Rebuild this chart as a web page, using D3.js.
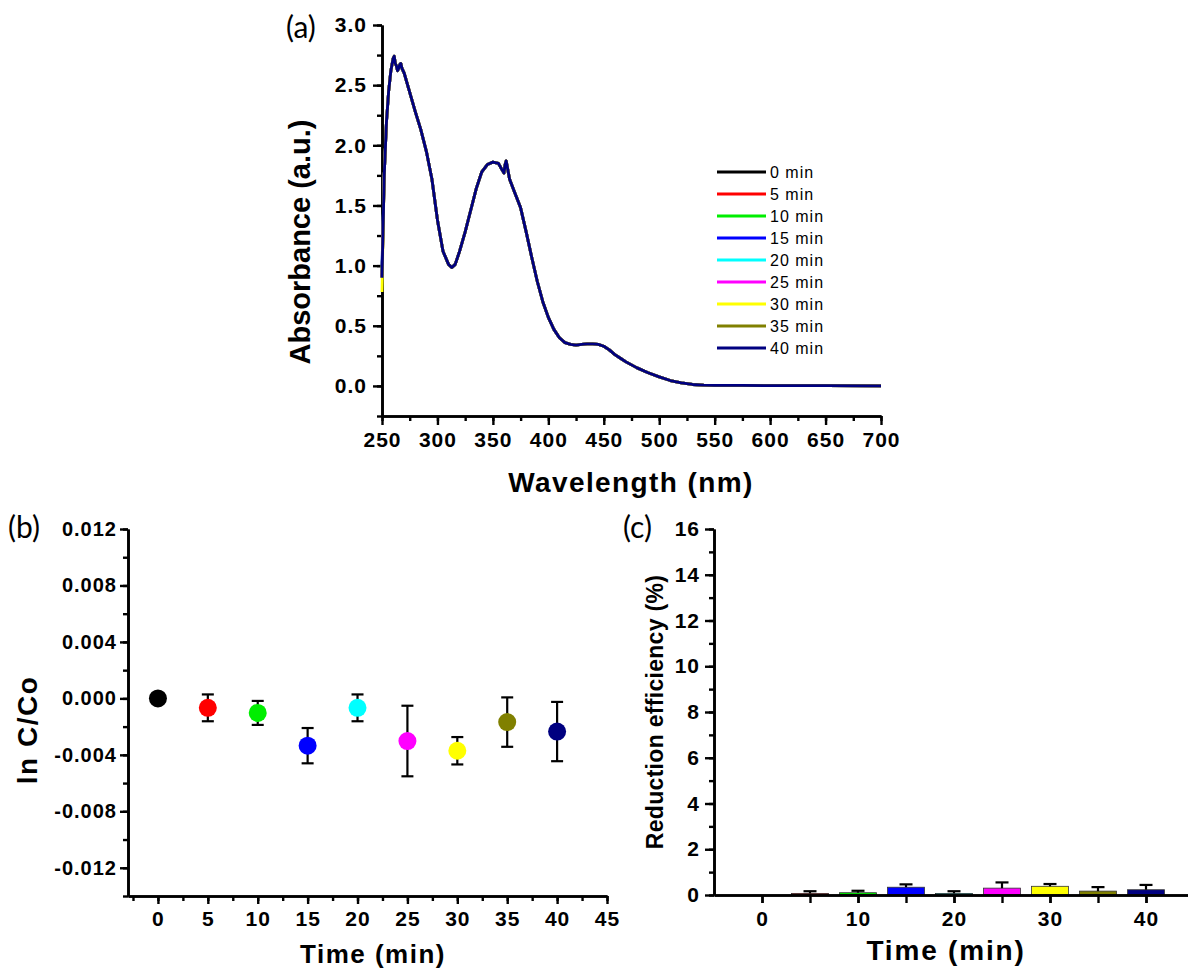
<!DOCTYPE html>
<html>
<head>
<meta charset="utf-8">
<script src="https://cdnjs.cloudflare.com/ajax/libs/d3/7.8.5/d3.min.js"></script>
<style>
    body { margin: 0; background: #fff; }
    svg text { font-family: "Liberation Sans", Arial, sans-serif; }
</style>
</head>
<body>
<div id="chart"></div>
<script>
// ---- data ----
// (a) UV-vis spectra, all nine curves lie on top of each other
var wavelength = [250, 252, 254, 256, 258, 260, 261, 262, 263, 264, 265, 266, 267, 268, 270, 275, 280, 285, 290, 295,
    300, 305, 310, 313, 316, 320, 325, 330, 335, 340, 345, 350, 355, 358, 360, 361, 362, 365, 370, 375,
    380, 385, 390, 395, 400, 405, 410, 415, 420, 425, 430, 435, 440, 445, 450, 455, 460, 465, 470, 475,
    480, 490, 500, 510, 520, 530, 540, 550, 575, 600, 650, 700];
var absorbance = [0.90, 1.75, 2.19, 2.45, 2.62, 2.72, 2.74, 2.68, 2.66, 2.62, 2.64, 2.67, 2.68, 2.64, 2.60, 2.44, 2.28, 2.13, 1.95, 1.72,
    1.38, 1.12, 1.01, 0.985, 1.01, 1.12, 1.28, 1.46, 1.64, 1.78, 1.84, 1.86, 1.85, 1.80, 1.77, 1.84, 1.87, 1.72, 1.60, 1.48,
    1.28, 1.07, 0.87, 0.70, 0.57, 0.47, 0.40, 0.36, 0.345, 0.34, 0.345, 0.35, 0.35, 0.345, 0.33, 0.30, 0.26, 0.23, 0.20, 0.175,
    0.15, 0.11, 0.075, 0.045, 0.025, 0.012, 0.007, 0.005, 0.004, 0.003, 0.002, 0.0];
// first point (250 nm) differs a little between runs
var startAbs = [0.90, 0.90, 0.95, 1.00, 0.90, 0.90, 0.78, 0.90, 0.90];
var seriesNames = ["0 min", "5 min", "10 min", "15 min", "20 min", "25 min", "30 min", "35 min", "40 min"];
var seriesColors = ["#000000", "#ff0000", "#00ee00", "#0000ff", "#00ffff", "#ff00ff", "#ffff00", "#808000", "#000080"];

// (b) ln C/Co vs time
var times = [0, 5, 10, 15, 20, 25, 30, 35, 40];
var lnC = [0, -0.00067, -0.00103, -0.00335, -0.00067, -0.00302, -0.00371, -0.00168, -0.00235];
var lnErr = [0, 0.00095, 0.00085, 0.00125, 0.00095, 0.0025, 0.00097, 0.00175, 0.0021];

// (c) reduction efficiency (%)
var reduction = [0, 0.07, 0.10, 0.34, 0.07, 0.30, 0.38, 0.17, 0.23];
var reductionErr = [0, 0.095, 0.085, 0.125, 0.095, 0.25, 0.10, 0.175, 0.21];

// tick labels
var ticksA_x = [250, 300, 350, 400, 450, 500, 550, 600, 650, 700];
var ticksA_y = [0, 0.5, 1.0, 1.5, 2.0, 2.5, 3.0];
var ticksB_x = [0, 5, 10, 15, 20, 25, 30, 35, 40, 45];
var ticksB_y = [-0.012, -0.008, -0.004, 0, 0.004, 0.008, 0.012];
var ticksC_x = [0, 10, 20, 30, 40];
var ticksC_y = [0, 2, 4, 6, 8, 10, 12, 14, 16];

var W = 1188, H = 972;
var svg = d3.select("#chart").append("svg")
    .attr("width", W)
    .attr("height", H);

// helper: style an axis group the Origin way (bold numbers, thick black line)
function styleAxis(g, size) {
    g.attr("font-family", null).attr("font-size", null);
    g.select(".domain").attr("stroke", "#000").attr("stroke-width", 2.6);
    g.selectAll(".tick line").attr("stroke", "#000").attr("stroke-width", 2.4);
    g.selectAll(".tick text")
        .attr("fill", "#000")
        .attr("font-weight", "bold")
        .attr("font-size", size + "px")
        .attr("letter-spacing", "1px");
}

function minor(values, step) {
    var out = [];
    for (var v = values[0]; v <= values[1] + 1e-9; v += step) out.push(+v.toFixed(6));
    return out;
}

function panelLabel(g, x, y, txt) {
    g.append("text")
        .attr("x", x).attr("y", y)
        .attr("font-size", "30px")
        .style("font-family", "Lato, 'Open Sans', sans-serif")
        .text(txt);
}

// ---------------- panel (a) ----------------
var xA = d3.scaleLinear().domain([250, 700]).range([382, 881]);
var yA = d3.scaleLinear().domain([-0.25, 3.0]).range([416, 25]);

var gA = svg.append("g");
// minor ticks first
gA.append("g").attr("transform", "translate(0,416)")
    .call(d3.axisBottom(xA).tickValues(minor([250, 700], 25)).tickSize(5).tickFormat("").tickSizeOuter(0))
    .call(styleAxis, 21);
gA.append("g").attr("transform", "translate(382,0)")
    .call(d3.axisLeft(yA).tickValues(minor([-0.25, 3.0], 0.25)).tickSize(5).tickFormat("").tickSizeOuter(0))
    .call(styleAxis, 21);
gA.append("g").attr("transform", "translate(0,416)")
    .call(d3.axisBottom(xA).tickValues(ticksA_x).tickSize(9).tickPadding(7).tickSizeOuter(0))
    .call(styleAxis, 21);
gA.append("g").attr("transform", "translate(382,0)")
    .call(d3.axisLeft(yA).tickValues(ticksA_y).tickSize(9).tickPadding(6).tickSizeOuter(0)
        .tickFormat(d3.format(".1f")))
    .call(styleAxis, 21);

var line = d3.line()
    .x(function(d) { return xA(d[0]); })
    .y(function(d) { return yA(d[1]); });

seriesNames.forEach(function(name, i) {
    var pts = wavelength.map(function(w, j) {
        return [w, j === 0 ? startAbs[i] : absorbance[j]];
    });
    gA.append("path")
        .datum(pts)
        .attr("fill", "none")
        .attr("stroke", seriesColors[i])
        .attr("stroke-width", 2.8)
        .attr("stroke-linejoin", "round")
        .attr("d", line);
});

// legend
var legA = gA.append("g").attr("transform", "translate(717,172)");
seriesNames.forEach(function(name, i) {
    legA.append("line")
        .attr("x1", 0).attr("x2", 49)
        .attr("y1", i * 22).attr("y2", i * 22)
        .attr("stroke", seriesColors[i]).attr("stroke-width", 3);
    legA.append("text")
        .attr("x", 53).attr("y", i * 22)
        .attr("dy", "0.36em")
        .attr("font-size", "16px")
        .attr("letter-spacing", "1px")
        .text(name);
});

gA.append("text")
    .attr("x", 631).attr("y", 492)
    .attr("text-anchor", "middle")
    .attr("font-weight", "bold").attr("font-size", "28px")
    .attr("letter-spacing", "1.4px")
    .text("Wavelength (nm)");
gA.append("text")
    .attr("transform", "translate(310,242) rotate(-90)")
    .attr("text-anchor", "middle")
    .attr("font-weight", "bold").attr("font-size", "29px")
    .text("Absorbance (a.u.)");
panelLabel(gA, 286, 38, "(a)");

// ---------------- panel (b) ----------------
var xB = d3.scaleLinear().domain([-3, 45]).range([128, 607]);
var yB = d3.scaleLinear().domain([-0.014, 0.012]).range([896, 529]);

var gB = svg.append("g");
gB.append("g").attr("transform", "translate(0,896)")
    .call(d3.axisBottom(xB).tickValues(minor([-2.5, 45], 2.5)).tickSize(5).tickFormat("").tickSizeOuter(0))
    .call(styleAxis, 21);
gB.append("g").attr("transform", "translate(128,0)")
    .call(d3.axisLeft(yB).tickValues(minor([-0.014, 0.012], 0.002)).tickSize(5).tickFormat("").tickSizeOuter(0))
    .call(styleAxis, 21);
gB.append("g").attr("transform", "translate(0,896)")
    .call(d3.axisBottom(xB).tickValues(ticksB_x).tickSize(8).tickPadding(7).tickSizeOuter(0))
    .call(styleAxis, 21);
gB.append("g").attr("transform", "translate(128,0)")
    .call(d3.axisLeft(yB).tickValues(ticksB_y).tickSize(8).tickPadding(3).tickSizeOuter(0)
        .tickFormat(function(d) { return d.toFixed(3); }))
    .call(styleAxis, 20);

var ptsB = gB.selectAll(".pt").data(times).enter().append("g");
ptsB.append("line")
    .attr("x1", function(d) { return xB(d); }).attr("x2", function(d) { return xB(d); })
    .attr("y1", function(d, i) { return yB(lnC[i] + lnErr[i]); })
    .attr("y2", function(d, i) { return yB(lnC[i] - lnErr[i]); })
    .attr("stroke", "#000").attr("stroke-width", 2.2);
[1, -1].forEach(function(s) {
    ptsB.filter(function(d, i) { return lnErr[i] > 0; })
        .append("line")
        .attr("x1", function(d) { return xB(d) - 6; }).attr("x2", function(d) { return xB(d) + 6; })
        .attr("y1", function(d) { var i = times.indexOf(d); return yB(lnC[i] + s * lnErr[i]); })
        .attr("y2", function(d) { var i = times.indexOf(d); return yB(lnC[i] + s * lnErr[i]); })
        .attr("stroke", "#000").attr("stroke-width", 2.2);
});
ptsB.append("circle")
    .attr("cx", function(d) { return xB(d); })
    .attr("cy", function(d, i) { return yB(lnC[i]); })
    .attr("r", 9)
    .attr("fill", function(d, i) { return seriesColors[i]; });

gB.append("text")
    .attr("x", 373).attr("y", 963)
    .attr("text-anchor", "middle")
    .attr("font-weight", "bold").attr("font-size", "26px")
    .attr("letter-spacing", "1.5px")
    .text("Time (min)");
gB.append("text")
    .attr("transform", "translate(37,730) rotate(-90)")
    .attr("text-anchor", "middle")
    .attr("font-weight", "bold").attr("font-size", "28px")
    .attr("letter-spacing", "1.5px")
    .text("ln C/Co");
panelLabel(gB, 8, 538, "(b)");

// ---------------- panel (c) ----------------
var xC = d3.scaleLinear().domain([-5, 45]).range([714, 1194]);
var yC = d3.scaleLinear().domain([0, 16]).range([895, 529]);
var barW = 3.85; // minutes

var gC = svg.append("g");
gC.append("g").attr("transform", "translate(714,0)")
    .call(d3.axisLeft(yC).tickValues(minor([0, 16], 1)).tickSize(5).tickFormat("").tickSizeOuter(0))
    .call(styleAxis, 21);
gC.append("g").attr("transform", "translate(714,0)")
    .call(d3.axisLeft(yC).tickValues(ticksC_y).tickSize(9).tickPadding(5).tickSizeOuter(0))
    .call(styleAxis, 21);

gC.selectAll(".bar").data(times).enter().append("rect")
    .attr("x", function(d) { return xC(d - barW / 2); })
    .attr("width", function() { return xC(barW) - xC(0); })
    .attr("y", function(d, i) { return yC(reduction[i]); })
    .attr("height", function(d, i) { return yC(0) - yC(reduction[i]); })
    .attr("fill", function(d, i) { return seriesColors[i]; })
    .attr("stroke", "#333").attr("stroke-width", 0.8);

var errC = gC.selectAll(".err").data(times.filter(function(d, i) { return reductionErr[i] > 0; }))
    .enter().append("g");
errC.append("line")
    .attr("x1", function(d) { return xC(d); }).attr("x2", function(d) { return xC(d); })
    .attr("y1", function(d) { var i = times.indexOf(d); return yC(reduction[i]); })
    .attr("y2", function(d) { var i = times.indexOf(d); return yC(reduction[i] + reductionErr[i]); })
    .attr("stroke", "#000").attr("stroke-width", 2.2);
errC.append("line")
    .attr("x1", function(d) { return xC(d) - 6.5; }).attr("x2", function(d) { return xC(d) + 6.5; })
    .attr("y1", function(d) { var i = times.indexOf(d); return yC(reduction[i] + reductionErr[i]); })
    .attr("y2", function(d) { var i = times.indexOf(d); return yC(reduction[i] + reductionErr[i]); })
    .attr("stroke", "#000").attr("stroke-width", 2.2);

// x axis drawn after bars so the line sits on top
gC.append("g").attr("transform", "translate(0,895)")
    .call(d3.axisBottom(xC).tickValues(times).tickSize(8).tickFormat("").tickSizeOuter(0))
    .call(styleAxis, 21);
gC.append("g").attr("transform", "translate(0,895)")
    .call(d3.axisBottom(xC).tickValues(ticksC_x).tickSize(8).tickPadding(8).tickSizeOuter(0))
    .call(styleAxis, 21);

gC.append("text")
    .attr("x", 946).attr("y", 960)
    .attr("text-anchor", "middle")
    .attr("font-weight", "bold").attr("font-size", "28px")
    .attr("letter-spacing", "1.8px")
    .text("Time (min)");
gC.append("text")
    .attr("transform", "translate(663,712) rotate(-90)")
    .attr("text-anchor", "middle")
    .attr("font-weight", "bold").attr("font-size", "23px")
    .attr("letter-spacing", "0.3px")
    .text("Reduction efficiency (%)");
panelLabel(gC, 623, 538, "(c)");
</script>
</body>
</html>
